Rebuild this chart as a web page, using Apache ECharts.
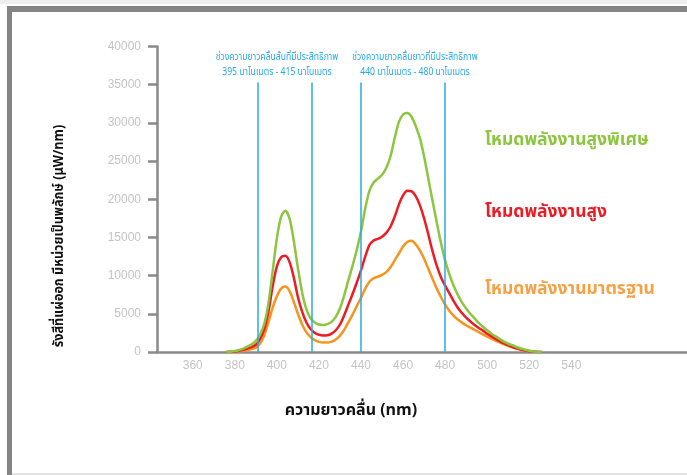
<!DOCTYPE html>
<html>
<head>
<meta charset="utf-8">
<script src="https://cdn.jsdelivr.net/npm/echarts@6/dist/echarts.min.js"></script>
<style>
html,body{margin:0;padding:0;background:#fff;}
#c{width:687px;height:475px;}
</style>
</head>
<body>
<div id="c"></div>
<script>
// ---- data ----
const wavelengths = [376,378,380,382,384,386,388,390,392,394,396,398,400,402,404,406,408,410,412,414,416,418,420,422,424,426,428,430,432,434,436,438,440,442,444,446,448,450,452,454,456,458,460,462,464,466,468,470,472,474,476,478,480,482,484,486,488,490,492,494,496,498,500,502,504,506,508,510,512,514,516,518,520,522,524,526];
const superHigh = [0,40,120,260,450,700,1000,1450,2300,3700,6400,10600,14900,17700,18500,17500,14600,11000,7800,5600,4400,3850,3600,3540,3650,3950,4600,5700,7400,9400,11300,13400,15800,18800,21100,22200,22700,23200,24100,25600,28000,30100,31100,31300,30800,29600,28000,25600,22700,19800,17000,14300,12000,10200,8700,7500,6500,5700,5000,4400,3800,3300,2850,2400,2050,1700,1350,1080,880,650,450,290,160,70,15,0];
const high = [0,20,60,150,280,450,650,950,1700,3000,5300,8600,11200,12400,12600,11800,9800,7200,5300,3900,3000,2500,2250,2150,2180,2400,2850,3600,4800,6200,7600,9100,10700,12500,14000,14600,14800,15100,15600,16400,17700,19300,20500,21100,21050,20400,19200,17500,15400,13200,11300,9800,8700,7700,6700,5800,5100,4500,4000,3550,3150,2800,2400,2050,1700,1400,1120,870,660,480,330,200,110,50,10,0];
const standard = [0,15,40,90,170,270,400,580,1100,2200,3900,5800,7300,8300,8560,8000,6600,5000,3600,2600,1950,1550,1320,1230,1230,1350,1650,2150,2900,3900,4900,6000,7100,8300,9200,9650,9850,10100,10450,11100,12000,12900,13800,14400,14550,14100,13300,12200,10900,9600,8300,7200,6200,5400,4750,4250,3850,3500,3200,2900,2600,2300,2000,1750,1500,1250,1000,800,620,460,330,220,130,70,30,0];
const xTickLabels = [360,380,400,420,440,460,480,500,520,540];
const bandLines = [391, 416.5, 440, 480];
const bandLineTop = 35300;
const seriesNames = ['โหมดพลังงานสูงพิเศษ','โหมดพลังงานสูง','โหมดพลังงานมาตรฐาน'];
const yTitle = 'รังสีที่แผ่ออก มีหน่วยเป็นพลักษ์ (μW/nm)';
const xTitle = 'ความยาวคลื่น (nm)';
const noteShort = ['ช่วงความยาวคลื่นสั้นที่มีประสิทธิภาพ','395 นาโนเมตร - 415 นาโนเมตร'];
const noteLong = ['ช่วงความยาวคลื่นยาวที่มีประสิทธิภาพ','440 นาโนเมตร - 480 นาโนเมตร'];

const pairs = arr => wavelengths.map((w,i)=>[w,arr[i]]);
const GREEN='#8cc63f', RED='#ed1c24', ORANGE='#f7941d', CYAN='#29abe2';
const FONT = '"Noto Sans Thai","Noto Sans","Liberation Sans",sans-serif';

const chart = echarts.init(document.getElementById('c'), null, {renderer:'canvas'});
const lineSeries = (name, arr, color) => ({
  name, type:'line', data: pairs(arr), showSymbol:false, smooth:0.3,
  lineStyle:{color, width:2.5}, itemStyle:{color}, z:3, animation:false
});
const note = (x, y, text) => ({type:'text', x, y, scaleX:0.86, style:{text, fill:CYAN, font:'10px '+FONT, textAlign:'center', textVerticalAlign:'middle'}});
chart.setOption({
  animation:false,
  backgroundColor:'#ffffff',
  grid:{left:157, right:0, top:46.5, bottom:123},
  xAxis:{
    type:'value', min:343, max:595,
    axisLine:{lineStyle:{color:'#8a8a8a', width:2.5}},
    axisTick:{show:false},
    splitLine:{show:false},
    axisLabel:{customValues:xTickLabels, color:'#c4c4c4', fontSize:12, margin:8, fontFamily:'"Liberation Sans",Arial,sans-serif'}
  },
  yAxis:{
    type:'value', min:0, max:40000, interval:5000,
    axisLine:{show:true, lineStyle:{color:'#8a8a8a', width:2.5}},
    axisTick:{show:true, length:9, lineStyle:{color:'#8a8a8a', width:2.5}},
    splitLine:{show:false},
    axisLabel:{color:'#c4c4c4', fontSize:12, margin:16, fontFamily:'"Liberation Sans",Arial,sans-serif', formatter: v => String(v)}
  },
  series:[
    lineSeries(seriesNames[2], standard, ORANGE),
    lineSeries(seriesNames[1], high, RED),
    lineSeries(seriesNames[0], superHigh, GREEN),
    {
      type:'line', data:[], z:5, silent:true,
      markLine:{
        symbol:'none', silent:true, animation:false,
        label:{show:false},
        lineStyle:{color:CYAN, width:1.5, type:'solid'},
        data: bandLines.map(x=>[{coord:[x,0]},{coord:[x,bandLineTop]}])
      }
    }
  ],
  graphic:[
    {type:'rect', shape:{x:0,y:0,width:687,height:4}, style:{fill:'#eeeeee'}, silent:true},
    {type:'rect', shape:{x:7,y:6,width:680,height:6}, style:{fill:'#848484'}, silent:true},
    {type:'rect', shape:{x:7,y:6,width:5,height:469}, style:{fill:'#848484'}, silent:true},
    {type:'rect', shape:{x:12,y:473,width:675,height:2}, style:{fill:'#e2e2e2'}, silent:true},
    {type:'text', x:60, y:236, rotation:Math.PI/2, scaleX:0.9, style:{text:yTitle, fill:'#111', font:'bold 14px '+FONT, textAlign:'center', textVerticalAlign:'middle'}},
    {type:'text', x:351, y:412, style:{text:xTitle, fill:'#111', font:'bold 16px '+FONT, textAlign:'center', textVerticalAlign:'middle'}},
    note(277, 58, noteShort[0]),
    note(277, 73, noteShort[1]),
    note(415, 58, noteLong[0]),
    note(415, 73, noteLong[1]),
    {type:'text', x:485, y:141, style:{text:seriesNames[0], fill:GREEN, font:'bold 17.5px '+FONT, textAlign:'left', textVerticalAlign:'middle'}},
    {type:'text', x:485, y:213, style:{text:seriesNames[1], fill:RED, font:'bold 17.5px '+FONT, textAlign:'left', textVerticalAlign:'middle'}},
    {type:'text', x:485, y:290, style:{text:seriesNames[2], fill:'#f7a145', font:'bold 17.5px '+FONT, textAlign:'left', textVerticalAlign:'middle'}}
  ]
});
</script>
</body>
</html>
